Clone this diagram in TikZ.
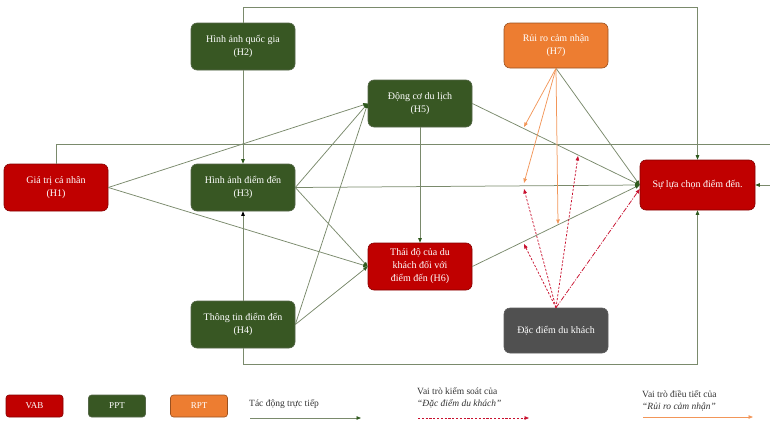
\documentclass[tikz,border=0pt]{standalone}
\usepackage{fontspec}
\setmainfont{Liberation Serif}
\usetikzlibrary{arrows.meta}
\definecolor{vabred}{HTML}{C00000}
\definecolor{pptgreen}{HTML}{385723}
\definecolor{rptorange}{HTML}{ED7D31}
\definecolor{travgray}{HTML}{505050}
\definecolor{linegreen}{HTML}{7A8A6C}
\definecolor{tipgreen}{HTML}{2F5A1E}
\definecolor{modorange}{HTML}{F29659}
\definecolor{ctrlred}{HTML}{C8102E}
\definecolor{keytext}{HTML}{333333}
\tikzstyle{box} = [rounded corners=6pt, minimum width=104pt, minimum height=47pt, align=center, text=white, font=\fontsize{10}{13}\selectfont, inner sep=2pt, line width=0.6pt]
\tikzstyle{vab} = [box, fill=vabred, draw=vabred!70!black]
\tikzstyle{ppt} = [box, fill=pptgreen, draw=pptgreen!60!gray]
\tikzstyle{rpt} = [box, fill=rptorange, draw=rptorange!65!black]
\tikzstyle{trav} = [box, fill=travgray, draw=travgray!70!gray]
\tikzstyle{key} = [rounded corners=3pt, minimum width=57pt, minimum height=22pt, text=white, font=\fontsize{9}{11}\selectfont, line width=0.6pt]
\tikzstyle{link} = [draw=linegreen, line width=0.75pt, -{Triangle[length=4.5pt,width=3.5pt,color=tipgreen]}]
\tikzstyle{mod} = [draw=modorange, line width=0.75pt, -{Triangle[length=4.5pt,width=3.5pt]}]
\tikzstyle{ctrl} = [draw=ctrlred, line width=0.75pt, dash pattern=on 2.2pt off 1.6pt, -{Triangle[length=4.5pt,width=3.5pt]}]
\tikzstyle{keylabel} = [anchor=west, text=keytext, font=\fontsize{9.5}{12}\selectfont, inner sep=0pt, align=left]

\begin{document}
\begin{tikzpicture}[x=1pt, y=-1pt]
    \useasboundingbox (0,0) rectangle (770,423);
    % constructs
    \draw (56,187.5) node[vab] (H1) {Giá trị cá nhân\\(H1)};
    \draw (243,46.5) node[ppt] (H2) {Hình ảnh quốc gia\\(H2)};
    \draw (243,187.5) node[ppt] (H3) {Hình ảnh điểm đến\\(H3)};
    \draw (243,324.5) node[ppt] (H4) {Thông tin điểm đến\\(H4)};
    \draw (420,103.5) node[ppt] (H5) {Động cơ du lịch\\(H5)};
    \draw (420,266.5) node[vab] (H6) {Thái độ của du\\khách đối với\\điểm đến (H6)};
    \draw (556,45.5) node[rpt, minimum height=45pt] (H7) {Rủi ro cảm nhận\\(H7)};
    \draw (697.5,185) node[vab, minimum width=115pt, minimum height=50pt] (choice) {Sự lựa chọn điểm đến.};
    \draw (556,330.5) node[trav, minimum height=45pt] (trav) {Đặc điểm du khách};
    % direct effects
    \draw [link] (H2) -- (H3);
    \draw [link, -{Triangle[length=4.5pt,width=3.5pt,color=black]}] (H4) -- (H3);
    \draw [link] (H1.east) -- (H5.west);
    \draw [link] (H1.east) -- (H6.west);
    \draw [link] (H3.east) -- (H5.west);
    \draw [link] (H3.east) -- (H6.west);
    \draw [link] (H4.east) -- (H5.west);
    \draw [link] (H4.east) -- (H6.west);
    \draw [link] (H5) -- (H6);
    \draw [link] (H3.east) -- (choice.west);
    \draw [link] (H5.east) -- (choice.west);
    \draw [link] (H6.east) -- (choice.west);
    \draw [link] (H7.south) -- (choice.west);
    \coordinate (topright) at (697.5,7);
    \coordinate (edgeright) at (773,144);
    \coordinate (bottomright) at (697.5,364);
    \draw [link] (H2.north) |- (topright) -- (choice.north);
    \draw [link] (H1.north) |- (edgeright) |- (choice.east);
    \draw [link] (H4.south) |- (bottomright) -- (choice.south);
    % moderating role of H7
    \coordinate (m1) at (524,127);
    \coordinate (m2) at (524,183);
    \coordinate (m3) at (558,224);
    \draw [mod] (H7.south) -- (m1);
    \draw [mod] (H7.south) -- (m2);
    \draw [mod] (H7.south) -- (m3);
    % control role of traveller characteristics
    \coordinate (c1) at (524,189);
    \coordinate (c2) at (578,156);
    \coordinate (c3) at (524,244);
    \draw [ctrl] (trav.north) -- (c1);
    \draw [ctrl] (trav.north) -- (c2);
    \draw [ctrl] (trav.north) -- (c3);
    \draw [ctrl, dash pattern=on 5pt off 1.5pt on 1pt off 1.5pt] (trav.north) -- ([yshift=-4pt]choice.west);
    % legend
    \draw (34.5,406) node[key, fill=vabred, draw=vabred!70!black] (kVAB) {VAB};
    \draw (117,406) node[key, fill=pptgreen, draw=pptgreen!60!gray] (kPPT) {PPT};
    \draw (199,406) node[key, fill=rptorange, draw=rptorange!65!black] (kRPT) {RPT};
    \draw (249,404) node[keylabel] (kDirect) {Tác động trực tiếp};
    \draw (417,398) node[keylabel] (kCtrl) {Vai trò kiểm soát của\\\textit{“Đặc điểm du khách”}};
    \draw (642,401) node[keylabel] (kMod) {Vai trò điều tiết của\\\textit{“Rủi ro cảm nhận”}};
    \coordinate (d1) at (250,418);
    \coordinate (d2) at (361,418);
    \coordinate (e1) at (418,418);
    \coordinate (e2) at (529,418);
    \coordinate (f1) at (643,417);
    \coordinate (f2) at (753,417);
    \draw [link] (d1) -- (d2);
    \draw [ctrl] (e1) -- (e2);
    \draw [mod] (f1) -- (f2);
\end{tikzpicture}
\end{document}
